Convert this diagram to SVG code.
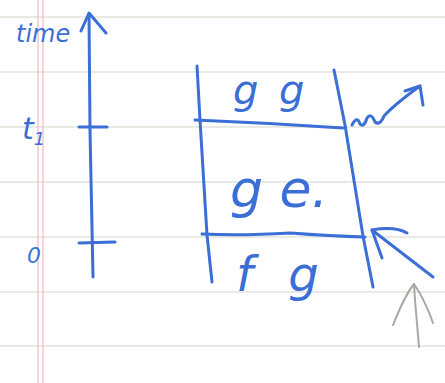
<svg xmlns="http://www.w3.org/2000/svg" width="445" height="383" viewBox="0 0 445 383">
<style>
.rule{stroke:#d6d6cc;stroke-width:1.2}
.margin{stroke:#f2b8c0;stroke-width:1.2}
.ink{fill:none;stroke:#3b6fd6;stroke-width:3;stroke-linecap:round;stroke-linejoin:round}
.pencil{fill:none;stroke:#a8a8a4;stroke-width:2;stroke-linecap:round;stroke-linejoin:round}
.hand{fill:#3b6fd6;font-family:"DejaVu Sans",sans-serif;font-style:oblique}
</style>
<rect width="445" height="383" fill="#ffffff"/>
<g id="paper">
<line class="rule" x1="0" y1="17" x2="445" y2="17"/>
<line class="rule" x1="0" y1="72" x2="445" y2="72"/>
<line class="rule" x1="0" y1="127" x2="445" y2="127"/>
<line class="rule" x1="0" y1="182" x2="445" y2="182"/>
<line class="rule" x1="0" y1="237" x2="445" y2="237"/>
<line class="rule" x1="0" y1="292" x2="445" y2="292"/>
<line class="rule" x1="0" y1="346" x2="445" y2="346"/>
<line class="margin" x1="38" y1="0" x2="38" y2="383"/>
<line class="margin" x1="43" y1="0" x2="43" y2="383"/>
</g>
<g id="time-axis">
<path class="ink" d="M89,14 L90,130 L93,277"/>
<path class="ink" d="M81,31 L89,13 L106,33"/>
<path class="ink" d="M79,127 L107,127"/>
<path class="ink" d="M79,243 L115,242"/>
<text class="hand" x="16" y="42" font-size="24">time</text>
<text class="hand" x="22" y="139" font-size="30">t<tspan font-size="18" dy="6">1</tspan></text>
<text class="hand" x="27" y="263" font-size="22">0</text>
</g>
<g id="box">
<path class="ink" d="M197,66 L200,120 L207,235 L212,282"/>
<path class="ink" d="M334,70 L345,125 L363,236 L373,287"/>
<path class="ink" d="M195,120 Q270,123 343,128"/>
<path class="ink" d="M202,234 Q240,236 290,233 Q330,236 365,237"/>
<text class="hand" x="233" y="104" font-size="40" letter-spacing="4">g g</text>
<text class="hand" x="230" y="207" font-size="52">g e.</text>
<text class="hand" x="236" y="291" font-size="48" letter-spacing="10">f g</text>
</g>
<g id="connectors">
<path class="ink" d="M352,125 Q357,115 360,124 Q364,128 367,118 Q371,112 375,122 Q380,126 384,116 Q395,104 420,86"/>
<path class="ink" d="M405,91 L420,86 L423,105"/>
<path class="ink" d="M433,277 L372,230"/>
<path class="ink" d="M382,258 L372,230 Q395,226 407,233"/>
<path class="pencil" d="M419,347 L415,300 L414,284"/>
<path class="pencil" d="M393,325 Q405,295 414,284 Q425,300 433,323"/>
</g>
</svg>
